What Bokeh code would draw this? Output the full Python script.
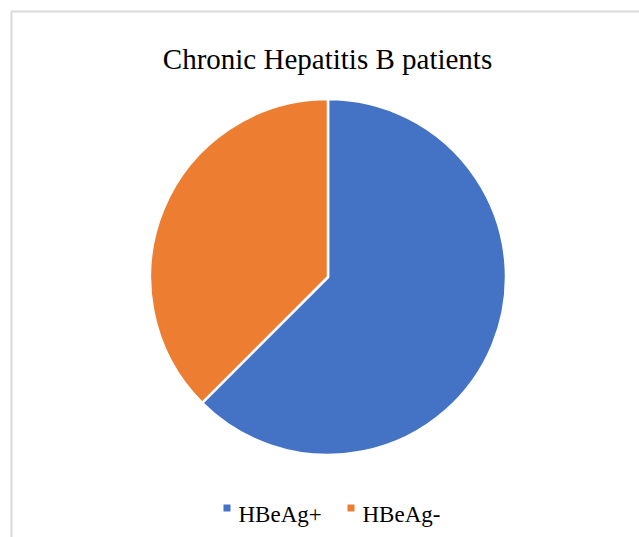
import math
from bokeh.plotting import figure
from bokeh.models import Range1d
from bokeh.core.properties import value
from bokeh.embed import file_html
from bokeh.resources import INLINE

# Data
title_text = "Chronic Hepatitis B patients"
categories = ["HBeAg+", "HBeAg-"]
shares = [62.5, 37.5]
colors = ["#4472C4", "#ED7D31"]

W, H = 639, 537
p = figure(width=W, height=H, output_backend="svg", toolbar_location=None,
           x_range=Range1d(0, W), y_range=Range1d(0, H), min_border=0)
p.axis.visible = False
p.grid.visible = False
p.outline_line_color = None
p.background_fill_color = "white"
p.border_fill_color = "white"

def Y(py):
    return H - py

# chart border (top-left corner visible)
p.quad(left=11, right=W + 50, top=Y(11), bottom=-50, fill_color=None,
       line_color="#d9d9d9", line_width=2)

# title
p.text(x=[327], y=[Y(58)], text=[title_text], text_align="center",
       text_baseline="alphabetic", text_font=value("Liberation Serif"),
       text_font_size="29px", text_color="#000000")

# pie
cx, cy, r = 327.5, Y(276.5), 178
total = sum(shares)
ang = math.pi / 2
starts, ends = [], []
for s in shares:
    a = 2 * math.pi * s / total
    starts.append(ang - a)
    ends.append(ang)
    ang -= a
p.wedge(x=[cx] * len(shares), y=[cy] * len(shares), radius=r,
        start_angle=starts, end_angle=ends, fill_color=colors,
        line_color="white", line_width=2.5)

# legend
leg_x = [223, 347]
for i, (cat, col) in enumerate(zip(categories, colors)):
    x0 = leg_x[i]
    p.rect(x=[x0 + 3.5], y=[Y(507.5)], width=7, height=7, fill_color=col,
           line_color=None)
    p.text(x=[x0 + 15], y=[Y(514)], text=[cat], text_align="left",
           text_baseline="alphabetic", text_font=value("Liberation Serif"),
           text_font_size="23px", text_color="#000000")

open("out.html", "w").write(file_html(p, INLINE))
